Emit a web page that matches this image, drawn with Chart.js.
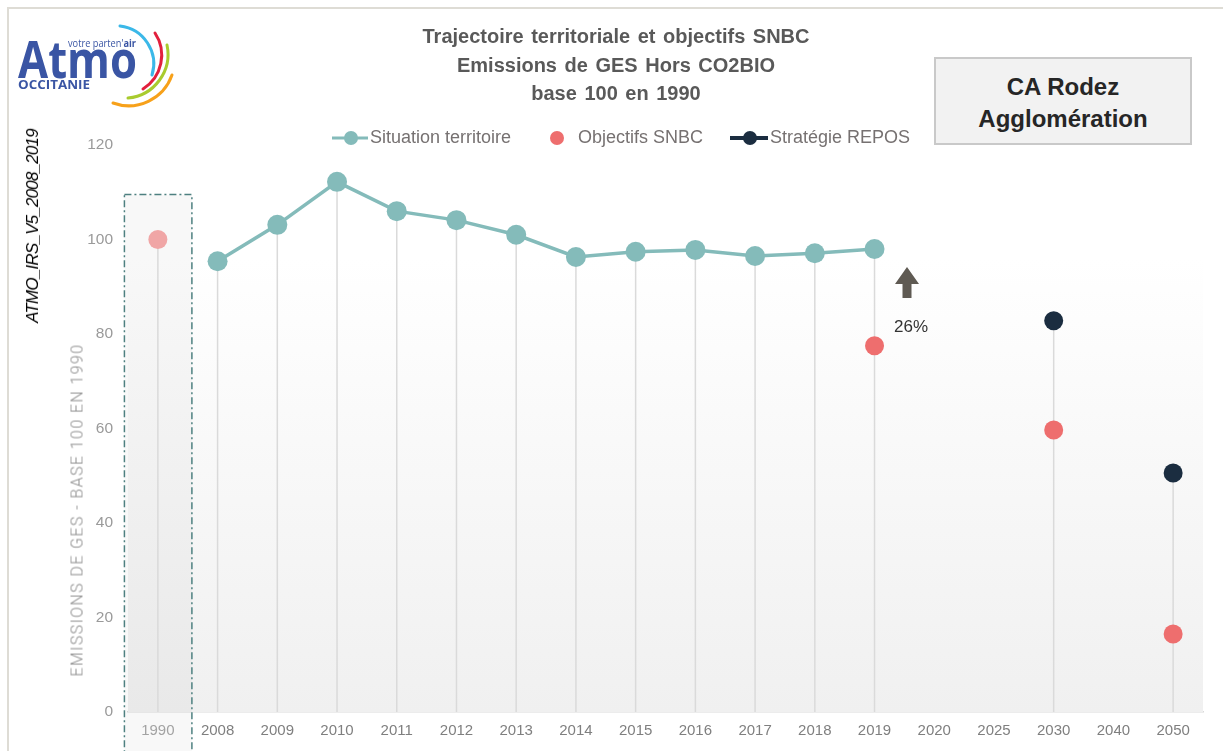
<!DOCTYPE html>
<html lang="fr">
<head>
<meta charset="UTF-8">
<title>Trajectoire territoriale et objectifs SNBC</title>
<script src="https://cdn.jsdelivr.net/npm/chart.js"></script>
<style>
  html, body { margin: 0; overflow: hidden; }
  body { background: #fff; width: 1223px; height: 751px; position: relative;
         font-family: "Liberation Sans", Arial, sans-serif; }
  #frame { position: absolute; left: 7px; top: 7px; width: 1260px; height: 780px;
           border-left: 2px solid #dedcd5; border-top: 2px solid #dedcd5; }
  #wrap { position: absolute; left: 0; top: 0; width: 1223px; height: 751px; }
  .abs { position: absolute; white-space: nowrap; }
  .title { left: 406px; top: 22px; width: 420px; text-align: center; font-weight: bold; font-size: 20px;
           line-height: 28.5px; color: #595959; word-spacing: 2px; }
  .legend { top: 126px; font-size: 18px; color: #767171; line-height: 22px; }
  .rot { transform: translate(-50%, -50%) rotate(-90deg); }
  .box { left: 934px; top: 57px; width: 254px; background: #f2f2f2; border: 2px solid #c9c9c9;
         text-align: center; font-weight: bold; font-size: 24px; line-height: 32px; color: #262626;
         padding-top: 12px; height: 72px; }
</style>
</head>
<body>
<div id="frame"></div>
<div id="wrap"><canvas id="chart" width="1223" height="751"></canvas></div>

<!-- logo -->
<svg class="abs" style="left:0;top:0" width="200" height="120">
  <text x="18" y="78" font-family="Open Sans, sans-serif" font-weight="bold" font-size="52" fill="#3a55a4" textLength="119" lengthAdjust="spacingAndGlyphs">Atmo</text>
  <text x="68" y="47" font-family="Open Sans, sans-serif" font-size="11" fill="#3a55a4" textLength="68" lengthAdjust="spacingAndGlyphs">votre parten'<tspan font-weight="bold">air</tspan></text>
  <text x="18" y="89" font-family="Open Sans, sans-serif" font-weight="bold" font-size="12" fill="#3a55a4" textLength="72" lengthAdjust="spacingAndGlyphs">OCCITANIE</text>
  <path d="M120,26 A38,38 0 0 1 152,75" fill="none" stroke="#3bb8e8" stroke-width="3" stroke-linecap="round"/>
  <path d="M155,33 A40,40 0 0 1 143,89" fill="none" stroke="#e2203d" stroke-width="3" stroke-linecap="round"/>
  <path d="M167,45 A44,44 0 0 1 128,98" fill="none" stroke="#a9cb2e" stroke-width="3" stroke-linecap="round"/>
  <path d="M172,75 A46,46 0 0 1 113,103" fill="none" stroke="#f7a11a" stroke-width="3" stroke-linecap="round"/>
</svg>

<div class="abs title">Trajectoire territoriale et objectifs SNBC<br>Emissions de GES Hors CO2BIO<br>base 100 en 1990</div>

<div class="abs box">CA Rodez<br>Agglomération</div>

<svg class="abs" style="left:330px;top:128px" width="40" height="20">
  <line x1="2" y1="10" x2="38" y2="10" stroke="#84bbba" stroke-width="3"/>
  <circle cx="21" cy="10" r="7" fill="#84bbba"/>
</svg>
<div class="abs legend" style="left:370px">Situation territoire</div>
<svg class="abs" style="left:547px;top:128px" width="20" height="20">
  <circle cx="10" cy="10" r="7" fill="#ee6e6e"/>
</svg>
<div class="abs legend" style="left:578px">Objectifs SNBC</div>
<svg class="abs" style="left:728px;top:128px" width="42" height="20">
  <line x1="2" y1="10" x2="40" y2="10" stroke="#1b2d40" stroke-width="4"/>
  <circle cx="22" cy="10" r="7" fill="#1b2d40"/>
</svg>
<div class="abs legend" style="left:770px">Stratégie REPOS</div>

<div class="abs rot" style="left:33px;top:226px;font-style:italic;font-size:17px;color:#000;letter-spacing:-0.8px">ATMO_IRS_V5_2008_2019</div>
<div class="abs rot" style="left:77px;top:510px;font-family:Roboto, 'Liberation Sans', sans-serif;font-weight:300;font-size:16px;color:#8c8c8c;letter-spacing:1.4px">EMISSIONS DE GES - BASE 100 EN 1990</div>

<svg class="abs" style="left:894px;top:266px" width="28" height="34">
  <polygon points="1,18 13,1 25,18 17.5,18 17.5,32 8.5,32 8.5,18" fill="#5f5a53"/>
</svg>
<div class="abs" style="left:894px;top:317px;font-size:17px;color:#333">26%</div>

<script>
const labels = ['1990', '2008', '2009', '2010', '2011', '2012', '2013', '2014', '2015', '2016',
                '2017', '2018', '2019', '2020', '2025', '2030', '2040', '2050'];
const situation = [null, 95.4, 103.1, 112.2, 106.0, 104.1, 101.0, 96.3, 97.4, 97.8,
                   96.5, 97.1, 98.0, null, null, null, null, null];
const snbc = [100, null, null, null, null, null, null, null, null, null,
              null, null, 77.5, null, null, 59.7, null, 16.5];
const repos = [null, null, null, null, null, null, null, null, null, null,
               null, null, null, null, null, 82.8, null, 50.6];
const yTicks = [0, 20, 40, 60, 80, 100, 120];

const FONT = '"Liberation Sans", Arial, sans-serif';

// fond dégradé, cadre 1990 et lignes verticales
const backdrop = {
  id: 'backdrop',
  beforeDatasetsDraw(chart) {
    const { ctx, chartArea: a, scales: { x, y } } = chart;
    ctx.save();
    const g = ctx.createLinearGradient(0, a.top, 0, a.bottom);
    g.addColorStop(0, '#ffffff');
    g.addColorStop(0.2, '#ffffff');
    g.addColorStop(1, '#f0f0f0');
    ctx.fillStyle = g;
    ctx.fillRect(a.left, a.top, a.right - a.left, a.bottom - a.top);

    const step = x.getPixelForValue(1) - x.getPixelForValue(0);
    const x0 = x.getPixelForValue(0) - step * 0.56;
    const x1 = x.getPixelForValue(0) + step * 0.57;
    const top = y.getPixelForValue(109.5);
    ctx.fillStyle = 'rgba(0,0,0,0.028)';
    ctx.fillRect(x0, top, x1 - x0, chart.height - top + 5);
    ctx.strokeStyle = '#4e8080';
    ctx.lineWidth = 1.5;
    ctx.setLineDash([7, 3, 2, 3]);
    ctx.strokeRect(x0, top, x1 - x0, chart.height - top + 5);
    ctx.setLineDash([]);

    ctx.strokeStyle = '#dadada';
    ctx.lineWidth = 1.5;
    labels.forEach((l, i) => {
      let best = null;
      chart.data.datasets.forEach((ds, d) => {
        if (ds.data[i] == null) return;
        const el = chart.getDatasetMeta(d).data[i];
        if (best == null || el.y < best) best = el.y;
      });
      if (best == null) return;
      const px = x.getPixelForValue(i);
      ctx.beginPath();
      ctx.moveTo(px, best);
      ctx.lineTo(px, a.bottom);
      ctx.stroke();
    });
    ctx.restore();
  }
};

new Chart(document.getElementById('chart'), {
  type: 'line',
  data: {
    labels: labels,
    datasets: [
      {
        label: 'Situation territoire',
        data: situation,
        borderColor: '#84bbba',
        backgroundColor: '#84bbba',
        borderWidth: 3.5,
        pointRadius: 10,
        pointHoverRadius: 10,
        pointBorderWidth: 0,
        tension: 0,
        spanGaps: false
      },
      {
        label: 'Objectifs SNBC',
        data: snbc,
        showLine: false,
        pointBackgroundColor: snbc.map((v, i) => i === 0 ? '#f0a6a6' : '#ee6e6e'),
        pointRadius: 9.5,
        pointHoverRadius: 9.5,
        pointBorderWidth: 0
      },
      {
        label: 'Stratégie REPOS',
        data: repos,
        borderColor: '#1b2d40',
        backgroundColor: '#1b2d40',
        pointBackgroundColor: '#1b2d40',
        borderWidth: 3,
        pointRadius: 9.5,
        pointHoverRadius: 9.5,
        pointBorderWidth: 0,
        spanGaps: false
      }
    ]
  },
  options: {
    responsive: false,
    animation: false,
    layout: { padding: { left: 0, top: 145, right: 20, bottom: 0 } },
    plugins: {
      legend: { display: false },
      title: { display: false },
      tooltip: { enabled: false }
    },
    scales: {
      x: {
        offset: true,
        grid: { display: false, drawTicks: false, offset: true },
        border: { display: true, color: '#d9d9d9', width: 1.5 },
        ticks: {
          padding: 10,
          maxRotation: 0,
          autoSkip: false,
          font: { family: FONT, size: 15 },
          color: ctx => ctx.index === 0 ? '#a8a8a8' : '#7f7f7f'
        },
        afterFit(scale) { scale.height = 39; }
      },
      y: {
        min: 0,
        max: 120,
        afterBuildTicks(scale) { scale.ticks = yTicks.map(v => ({ value: v })); },
        grid: { display: false, drawTicks: false },
        border: { display: false },
        ticks: {
          padding: 15,
          font: { family: FONT, size: 15.5 },
          color: '#9a9a9a'
        },
        afterFit(scale) { scale.width = 128; }
      }
    }
  },
  plugins: [backdrop]
});
</script>
</body>
</html>
